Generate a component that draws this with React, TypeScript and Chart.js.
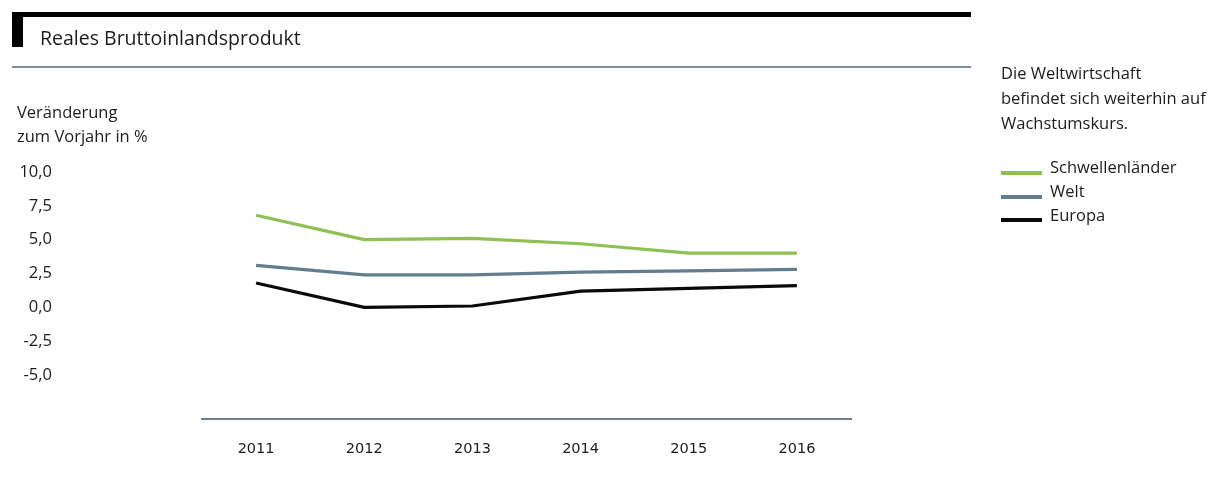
import React, { useEffect, useRef } from "react";
import { Chart, registerables } from "chart.js";

Chart.register(...registerables);

const years = ["2011", "2012", "2013", "2014", "2015", "2016"];
const schwellenlaender = [6.8, 5.0, 5.1, 4.7, 4.0, 4.0];
const welt = [3.1, 2.4, 2.4, 2.6, 2.7, 2.8];
const europa = [1.8, 0.0, 0.1, 1.2, 1.4, 1.6];
const yTickValues = [-5, -2.5, 0, 2.5, 5, 7.5, 10];

const seriesNames = ["Schwellenländer", "Welt", "Europa"];
const seriesColors = ["#8dc153", "#647d8e", "#0a0a0a"];

const FONT = "'Open Sans', 'Noto Sans', sans-serif";
const TEXT = "#1c1c1c";

export default function App() {
  const canvasRef = useRef<HTMLCanvasElement | null>(null);

  useEffect(() => {
    const canvas = canvasRef.current;
    if (!canvas) return;
    const chart = new Chart(canvas, {
      type: "line",
      data: {
        labels: years,
        datasets: [schwellenlaender, welt, europa].map((d, i) => ({
          label: seriesNames[i],
          data: d,
          borderColor: seriesColors[i],
          backgroundColor: seriesColors[i],
          borderWidth: 3.2,
          pointRadius: 0,
          tension: 0,
          fill: false,
        })),
      },
      options: {
        responsive: false,
        maintainAspectRatio: false,
        animation: false,
        devicePixelRatio: 1,
        layout: { padding: { top: 172, right: 361, bottom: 0, left: 0 } },
        plugins: { legend: { display: false }, tooltip: { enabled: false } },
        scales: {
          x: {
            type: "category",
            offset: true,
            grid: { display: false, drawTicks: false },
            border: { display: true, color: "#6f7e88", width: 2 },
            ticks: {
              color: TEXT,
              padding: 22,
              font: { family: "'DejaVu Sans', sans-serif", size: 14.5 },
            },
            afterFit: (s: any) => {
              s.height = 80;
            },
          },
          y: {
            min: -8.25,
            max: 10,
            grid: { display: false, drawTicks: false },
            border: { display: false },
            afterBuildTicks: (s: any) => {
              s.ticks = yTickValues.map((v) => ({ value: v }));
            },
            ticks: {
              color: TEXT,
              padding: 150,
              font: { family: FONT, size: 16.5 },
              callback: (v: any) => Number(v).toFixed(1).replace(".", ","),
            },
            afterFit: (s: any) => {
              s.width = 202;
              s.paddingTop = 0;
              s.paddingBottom = 0;
            },
          },
        },
      },
    });
    return () => chart.destroy();
  }, []);

  const abs = (l: number, t: number, extra: any = {}) => ({
    position: "absolute" as const,
    left: l,
    top: t,
    ...extra,
  });

  return (
    <div style={{ position: "fixed", left: 0, top: 0, width: 1212, height: 499, background: "#fff", fontFamily: FONT, color: TEXT }}>
      <canvas
        ref={canvasRef}
        width={1212}
        height={499}
        style={{ position: "absolute", left: 0, top: 0, width: 1212, height: 499 }}
      />
      {/* header bars */}
      <div style={abs(12, 12, { width: 959, height: 5, background: "#000" })} />
      <div style={abs(12, 12, { width: 11, height: 35, background: "#000" })} />
      <div style={abs(12, 66, { width: 959, height: 2, background: "#7d8f9c" })} />
      <div style={abs(40, 28, { fontSize: 19.5, lineHeight: "20px", whiteSpace: "nowrap" })}>Reales Bruttoinlandsprodukt</div>
      {/* y axis title */}
      <div style={abs(17, 100, { fontSize: 16.5, lineHeight: "24px", whiteSpace: "nowrap" })}>
        Veränderung
        <br />
        zum Vorjahr in %
      </div>
      {/* side note */}
      <div style={abs(1001, 60, { fontSize: 16.5, lineHeight: "25px", whiteSpace: "nowrap" })}>
        Die Weltwirtschaft
        <br />
        befindet sich weiterhin auf
        <br />
        Wachstumskurs.
      </div>
      {/* legend */}
      {seriesNames.map((n, i) => (
        <div key={n}>
          <div style={abs(1001, 171 + i * 23.5, { width: 41, height: 4, background: seriesColors[i] })} />
          <div style={abs(1050, 156 + i * 23.8, { fontSize: 16.5, lineHeight: "22px", whiteSpace: "nowrap" })}>{n}</div>
        </div>
      ))}
    </div>
  );
}
